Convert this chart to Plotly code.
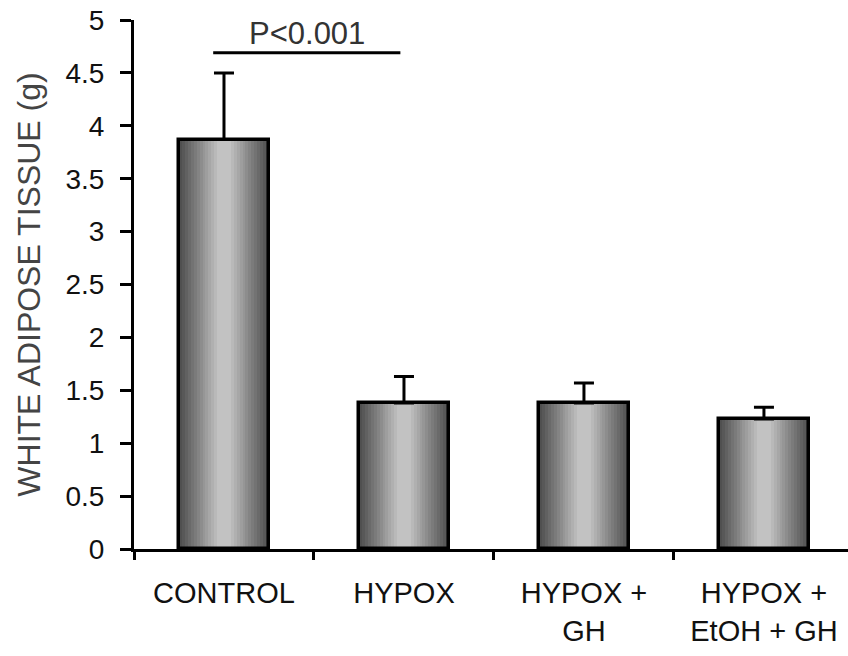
import plotly.graph_objects as go

# ---- data ----
categories = ["CONTROL", "HYPOX", "HYPOX +<br>GH", "HYPOX +<br>EtOH + GH"]
means = [3.87, 1.38, 1.38, 1.23]
errors_up = [0.63, 0.25, 0.19, 0.11]
y_ticks = [0, 0.5, 1, 1.5, 2, 2.5, 3, 3.5, 4, 4.5, 5]
y_tick_labels = ["0", "0.5", "1", "1.5", "2", "2.5", "3", "3.5", "4", "4.5", "5"]
sig_label = "P<0.001"
sig_from, sig_to, sig_level = -0.06, 0.98, 4.69

FONT = "Liberation Sans, Arial, sans-serif"
BAR_W = 0.5

fig = go.Figure()

# gradient effect: overlaid bars of decreasing width and increasing lightness
n_layers = 14
dark = (80, 80, 80)
light = (194, 194, 194)
for k in range(n_layers):
    t = k / (n_layers - 1)
    c = tuple(int(dark[i] + (light[i] - dark[i]) * t) for i in range(3))
    w = BAR_W * (1 - 0.85 * t)
    fig.add_trace(go.Bar(
        x=categories, y=means, width=w,
        marker=dict(color="rgb(%d,%d,%d)" % c, line=dict(width=0)),
        hoverinfo="skip", showlegend=False,
    ))

# outline + error bars on top
fig.add_trace(go.Bar(
    x=categories, y=means, width=BAR_W,
    marker=dict(color="rgba(0,0,0,0)", line=dict(color="black", width=3.5)),
    error_y=dict(type="data", array=errors_up, arrayminus=[0] * len(means),
                 symmetric=False, color="black", thickness=3, width=10),
    showlegend=False,
))

fig.add_shape(type="line", xref="x", yref="y",
              x0=sig_from, x1=sig_to, y0=sig_level, y1=sig_level,
              line=dict(color="black", width=3))
fig.add_annotation(x=(sig_from + sig_to) / 2, y=4.87, xref="x", yref="y",
                   text=sig_label, showarrow=False,
                   font=dict(family=FONT, size=31, color="#333"))

fig.update_layout(
    width=848, height=656,
    margin=dict(l=134, r=0, t=20, b=107, autoexpand=False),
    paper_bgcolor="white", plot_bgcolor="white",
    barmode="overlay",
    bargap=0,
    showlegend=False,
)

fig.update_xaxes(
    type="category",
    range=[-0.5, 3.467],
    automargin=False,
    showline=True, linecolor="black", linewidth=3,
    ticks="outside", ticklen=8, tickwidth=3, tickcolor="black",
    tickson="boundaries",
    tickfont=dict(family=FONT, size=29, color="#111"),
    ticklabelstandoff=16,
    ticklabeloverflow="allow",
    showgrid=False, zeroline=False,
)

fig.update_yaxes(
    range=[0, 5.0005],
    automargin=False,
    tickvals=y_ticks, ticktext=y_tick_labels,
    showline=True, linecolor="black", linewidth=3,
    ticks="outside", ticklen=11, tickwidth=3, tickcolor="black",
    tickfont=dict(family=FONT, size=28, color="#111"),
    ticklabelstandoff=10,
    ticklabeloverflow="allow",
    showgrid=False, zeroline=False,
    title=dict(text="WHITE ADIPOSE TISSUE (g)",
               font=dict(family=FONT, size=32, color="#444"),
               standoff=16),
)

# remove the browser's default 8px page margin so the figure fills the window
fig.write_html("out.html",
               config={"displayModeBar": False},
               post_script="document.body.style.margin='0';"
                           "document.body.style.overflow='hidden';")
